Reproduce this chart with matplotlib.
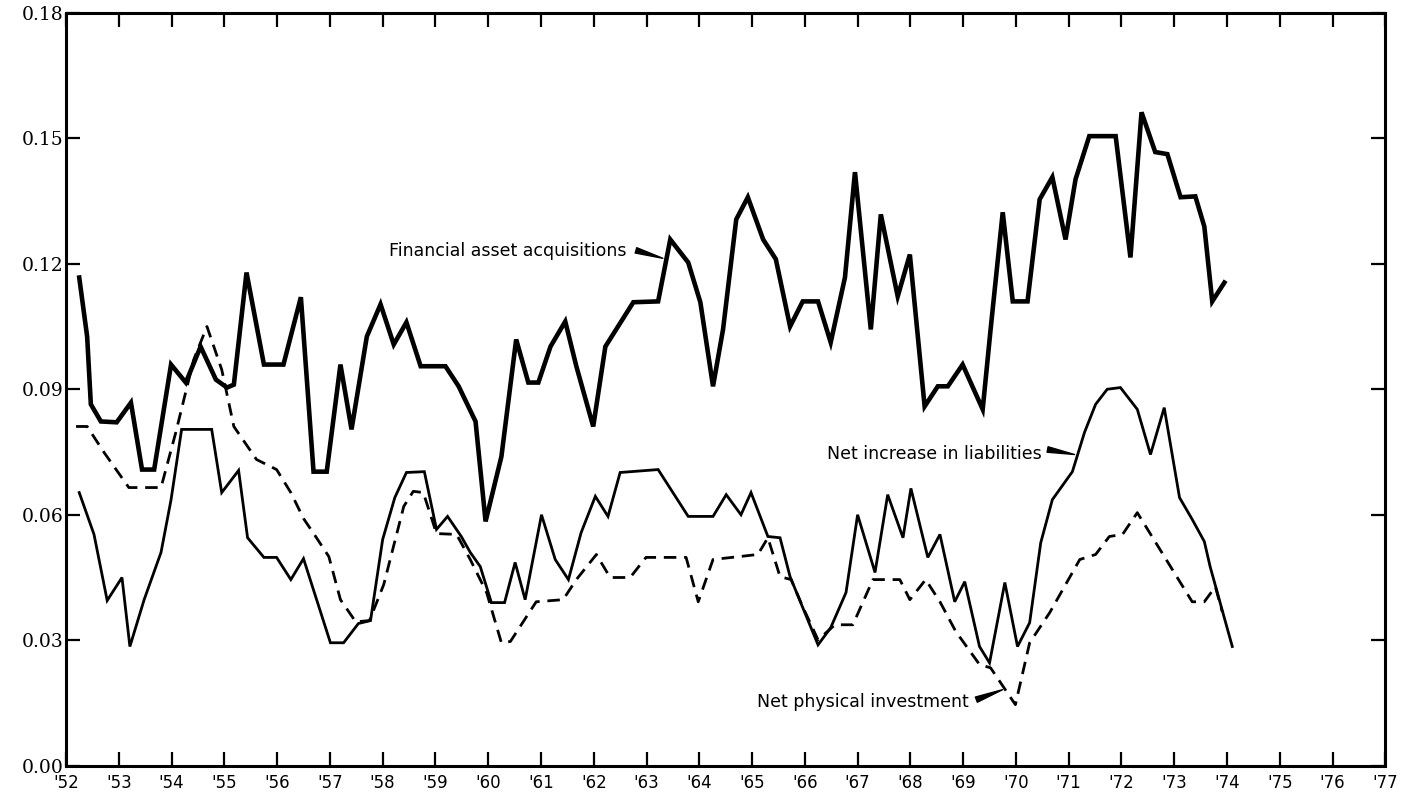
import matplotlib
matplotlib.use("Agg")
import matplotlib.pyplot as plt

# financial asset acquisitions (heavy solid line)
fin_year = [1952.25, 1952.40, 1952.47, 1952.66, 1952.96, 1953.23, 1953.44, 1953.67, 1953.99,
            1954.27, 1954.55, 1954.84, 1955.05, 1955.18, 1955.42, 1955.75, 1956.12, 1956.45,
            1956.69, 1956.94, 1957.20, 1957.41, 1957.70, 1957.96, 1958.21, 1958.45, 1958.72,
            1959.19, 1959.44, 1959.76, 1959.95, 1960.25, 1960.53, 1960.76, 1960.95, 1961.18,
            1961.46, 1961.67, 1961.99, 1962.22, 1962.46, 1962.75, 1963.22, 1963.45, 1963.79,
            1964.02, 1964.26, 1964.45, 1964.70, 1964.92, 1965.21, 1965.45, 1965.72, 1965.96,
            1966.25, 1966.49, 1966.76, 1966.95, 1967.25, 1967.44, 1967.76, 1967.99, 1968.27,
            1968.52, 1968.71, 1968.99, 1969.37, 1969.52, 1969.75, 1969.94, 1970.22, 1970.45,
            1970.69, 1970.94, 1971.13, 1971.39, 1971.89, 1972.17, 1972.38, 1972.64, 1972.87,
            1973.12, 1973.40, 1973.57, 1973.72, 1973.95]
fin_val = [0.1167, 0.1026, 0.0864, 0.0823, 0.0821, 0.0868, 0.0708, 0.0708, 0.0959,
           0.0916, 0.1002, 0.0923, 0.0904, 0.0911, 0.1179, 0.0959, 0.0959, 0.1120,
           0.0703, 0.0703, 0.0959, 0.0804, 0.1026, 0.1103, 0.1007, 0.1060, 0.0955,
           0.0955, 0.0907, 0.0823, 0.0584, 0.0739, 0.1019, 0.0916, 0.0916, 0.1002,
           0.1062, 0.0955, 0.0811, 0.1002, 0.1050, 0.1108, 0.1110, 0.1258, 0.1203,
           0.1108, 0.0907, 0.1043, 0.1306, 0.1359, 0.1258, 0.1211, 0.1050, 0.1110,
           0.1110, 0.1012, 0.1167, 0.1419, 0.1043, 0.1318, 0.1122, 0.1222, 0.0859,
           0.0907, 0.0907, 0.0959, 0.0852, 0.1043, 0.1323, 0.1110, 0.1110, 0.1354,
           0.1407, 0.1258, 0.1402, 0.1505, 0.1505, 0.1215, 0.1562, 0.1467, 0.1462,
           0.1359, 0.1361, 0.1289, 0.1110, 0.1155]

# net increase in liabilities (thin solid line)
liab_year = [1952.25, 1952.53, 1952.78, 1953.06, 1953.21, 1953.48, 1953.80, 1953.99, 1954.19,
             1954.76, 1954.95, 1955.27, 1955.44, 1955.75, 1955.99, 1956.26, 1956.50, 1957.01,
             1957.26, 1957.54, 1957.77, 1958.00, 1958.23, 1958.45, 1958.79, 1959.02, 1959.23,
             1959.49, 1959.66, 1959.85, 1960.06, 1960.31, 1960.51, 1960.70, 1961.01, 1961.27,
             1961.52, 1961.76, 1962.03, 1962.27, 1962.50, 1963.22, 1963.79, 1964.26, 1964.51,
             1964.79, 1964.98, 1965.30, 1965.53, 1965.72, 1966.25, 1966.49, 1966.78, 1967.00,
             1967.33, 1967.57, 1967.86, 1968.01, 1968.33, 1968.56, 1968.84, 1969.03, 1969.31,
             1969.50, 1969.79, 1970.03, 1970.26, 1970.47, 1970.69, 1971.07, 1971.30, 1971.51,
             1971.73, 1971.98, 1972.30, 1972.55, 1972.81, 1973.10, 1973.34, 1973.57, 1973.68,
             1974.10]
liab_val = [0.0653, 0.0553, 0.0395, 0.0450, 0.0285, 0.0397, 0.0510, 0.0636, 0.0804,
            0.0804, 0.0653, 0.0706, 0.0545, 0.0498, 0.0498, 0.0445, 0.0495, 0.0294,
            0.0294, 0.0340, 0.0347, 0.0541, 0.0641, 0.0701, 0.0703, 0.0565, 0.0596,
            0.0548, 0.0510, 0.0476, 0.0390, 0.0390, 0.0486, 0.0397, 0.0600, 0.0493,
            0.0445, 0.0557, 0.0644, 0.0596, 0.0701, 0.0708, 0.0596, 0.0596, 0.0648,
            0.0600, 0.0653, 0.0548, 0.0545, 0.0452, 0.0289, 0.0330, 0.0414, 0.0600,
            0.0462, 0.0648, 0.0545, 0.0663, 0.0498, 0.0553, 0.0392, 0.0440, 0.0285,
            0.0246, 0.0438, 0.0285, 0.0342, 0.0533, 0.0636, 0.0703, 0.0797, 0.0864,
            0.0900, 0.0904, 0.0852, 0.0744, 0.0856, 0.0641, 0.0589, 0.0536, 0.0476,
            0.0285]

# net physical investment (dashed line)
phys_year = [1952.19, 1952.40, 1952.72, 1953.19, 1953.80, 1954.08, 1954.42, 1954.67, 1954.95,
             1955.18, 1955.61, 1955.99, 1956.26, 1956.50, 1956.73, 1956.98, 1957.20, 1957.49,
             1957.75, 1958.02, 1958.40, 1958.58, 1958.77, 1959.02, 1959.40, 1959.66, 1959.97,
             1960.25, 1960.42, 1960.91, 1961.42, 1961.67, 1962.05, 1962.31, 1962.69, 1962.99,
             1963.75, 1963.98, 1964.26, 1965.11, 1965.30, 1965.53, 1965.74, 1965.96, 1966.25,
             1966.57, 1966.91, 1967.29, 1967.80, 1967.99, 1968.29, 1968.56, 1968.86, 1969.31,
             1969.52, 1969.99, 1970.26, 1970.64, 1971.21, 1971.51, 1971.77, 1972.02, 1972.30,
             1973.34, 1973.57, 1973.78, 1973.91]
phys_val = [0.0811, 0.0811, 0.0749, 0.0665, 0.0665, 0.0797, 0.0971, 0.1050, 0.0947,
            0.0811, 0.0732, 0.0708, 0.0653, 0.0591, 0.0548, 0.0500, 0.0397, 0.0344,
            0.0347, 0.0433, 0.0620, 0.0656, 0.0653, 0.0555, 0.0553, 0.0493, 0.0414,
            0.0294, 0.0297, 0.0392, 0.0397, 0.0445, 0.0505, 0.0450, 0.0450, 0.0498,
            0.0498, 0.0392, 0.0493, 0.0505, 0.0545, 0.0452, 0.0445, 0.0380, 0.0301,
            0.0337, 0.0337, 0.0445, 0.0445, 0.0397, 0.0445, 0.0392, 0.0321, 0.0242,
            0.0234, 0.0146, 0.0294, 0.0366, 0.0493, 0.0505, 0.0548, 0.0553, 0.0605,
            0.0392, 0.0392, 0.0428, 0.0368]

x_ticks = list(range(1952, 1978))
x_labels = ["'%02d" % (y % 100) for y in x_ticks]
y_ticks = [0.00, 0.03, 0.06, 0.09, 0.12, 0.15, 0.18]

fig = plt.figure(figsize=(14.05, 7.96), dpi=100)
ax = fig.add_axes([0.047, 0.038, 0.939, 0.946])

ax.plot(fin_year, fin_val, color="black", lw=3.3, solid_joinstyle="miter")
ax.plot(liab_year, liab_val, color="black", lw=2.0, solid_joinstyle="miter")
ax.plot(phys_year, phys_val, color="black", lw=2.0, dashes=(4.5, 2.8))

ax.set_xlim(1952, 1977)
ax.set_ylim(0, 0.18)
ax.set_xticks(x_ticks)
ax.set_xticklabels(x_labels, fontfamily="DejaVu Sans", fontsize=12)
ax.set_yticks(y_ticks)
ax.set_yticklabels(["%.2f" % v for v in y_ticks], fontfamily="DejaVu Serif", fontsize=13.5)
ax.tick_params(axis="both", direction="in", length=10, width=1.6,
               top=True, right=True)
ax.tick_params(axis="x", pad=6)
ax.tick_params(axis="y", pad=2)
for s in ax.spines.values():
    s.set_linewidth(2.2)

txt = dict(fontfamily="DejaVu Sans", fontsize=12.5, color="black")
arrow = dict(arrowstyle="wedge,tail_width=0.4", color="black", shrinkA=0, shrinkB=0)

ax.text(1962.62, 0.1230, "Financial asset acquisitions", ha="right", va="center", **txt)
ax.annotate("", xy=(1963.31, 0.1213), xytext=(1962.80, 0.1232), arrowprops=arrow)

ax.text(1970.48, 0.0746, "Net increase in liabilities", ha="right", va="center", **txt)
ax.annotate("", xy=(1971.11, 0.0744), xytext=(1970.60, 0.0756), arrowprops=arrow)

ax.text(1969.10, 0.0153, "Net physical investment", ha="right", va="center", **txt)
ax.annotate("", xy=(1969.75, 0.0182), xytext=(1969.25, 0.0158), arrowprops=arrow)

fig.savefig("out.png", dpi=100)
